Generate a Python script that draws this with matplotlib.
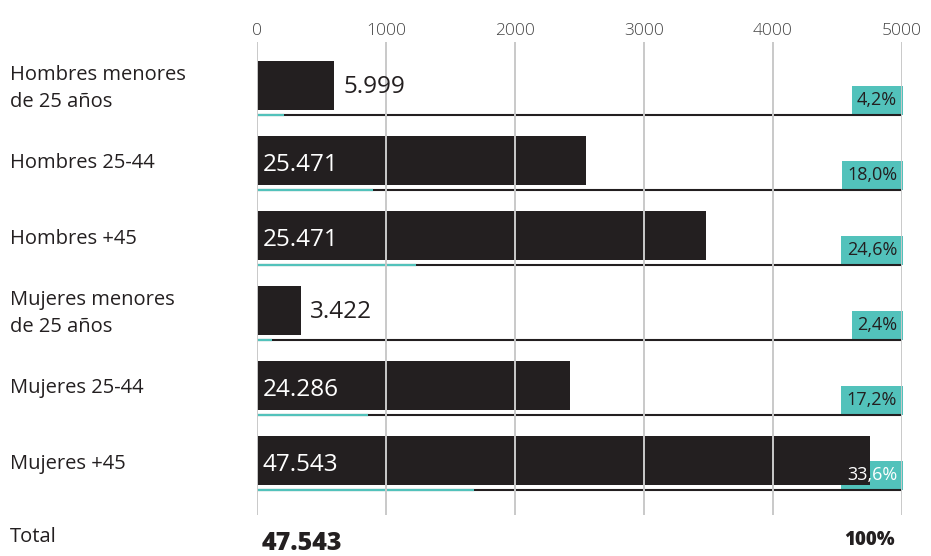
import numpy as np
import matplotlib
matplotlib.use("Agg")
import matplotlib.pyplot as plt

plt.rcParams['font.family'] = ['Open Sans', 'DejaVu Sans']

# Data
categorias = ["Hombres menores\nde 25 años", "Hombres 25-44", "Hombres +45",
              "Mujeres menores\nde 25 años", "Mujeres 25-44", "Mujeres +45"]
valores = [5999, 25471, 34810, 3422, 24286, 47543]        # bar lengths (axis shows value / 10)
etiquetas_valor = ["5.999", "25.471", "25.471", "3.422", "24.286", "47.543"]
porcentajes = [4.2, 18.0, 24.6, 2.4, 17.2, 33.6]
etiquetas_pct = ["4,2%", "18,0%", "24,6%", "2,4%", "17,2%", "33,6%"]
total_valor = "47.543"
total_pct = "100%"
ticks = [0, 1000, 2000, 3000, 4000, 5000]

dark = "#231f20"
teal = "#52c2bb"
grid = "#c9c9c9"

fig = plt.figure(figsize=(9.31, 5.56), dpi=100)
ax = fig.add_axes([257/931, 1 - 515/556, 645/931, 473/556])

y = np.arange(len(categorias))
largo = np.array(valores) / 10
ax.set_xlim(0, 5000)
ax.set_ylim(-0.58 + 473/75, -0.58)

# vertical grid lines drawn over bars
for t in ticks:
    ax.axvline(t, color=grid, lw=1.4, zorder=4)

ax.barh(y, largo, height=0.65, color=dark, zorder=3)

for i in y:
    yl = i + 0.395
    ax.plot([0, 5000], [yl, yl], color=dark, lw=1.5, zorder=2, solid_capstyle='butt')
    ax.plot([0, porcentajes[i] / 100 * 5000], [yl, yl], color=teal, lw=1.6, zorder=2.5,
            solid_capstyle='butt')
    # percentage box (box below the bar, text above)
    kw = dict(ha='right', va='bottom', fontsize=13)
    ax.text(4962, yl - 0.08, etiquetas_pct[i], color=(0, 0, 0, 0), zorder=1.5,
            bbox=dict(boxstyle='square,pad=0.3', fc=teal, ec='none'), **kw)
    pcol = 'white' if largo[i] > 4700 else dark
    ax.text(4962, yl - 0.08, etiquetas_pct[i], color=pcol, zorder=6, **kw)
    # value labels
    if largo[i] > 1500:
        ax.text(45, i + 0.06, etiquetas_valor[i], ha='left', va='center', fontsize=17.5,
                color='white', zorder=6)
    else:
        ax.text(largo[i] + 70, i + 0.02, etiquetas_valor[i], ha='left', va='center',
                fontsize=17.5, color=dark, zorder=6)

# category labels
for i, c in enumerate(categorias):
    ax.text(-247/645*5000, i + 0.04, c, ha='left', va='center', fontsize=14.5, color=dark,
            linespacing=1.45, clip_on=False)

# total row
fig.text(10/931, 1 - 537/556, "Total", ha='left', va='center', fontsize=14.5, color=dark)
fig.text(262/931, 1 - 543/556, total_valor, ha='left', va='center', fontsize=18,
         fontweight='heavy', color=dark)
fig.text(895/931, 1 - 540/556, total_pct, ha='right', va='center', fontsize=13.5,
         fontweight='heavy', color=dark)

ax.xaxis.tick_top()
ax.set_xticks(ticks)
ax.set_xticklabels([str(t) for t in ticks], fontsize=12.5, color="#444444", fontweight='light')
ax.tick_params(axis='x', length=0, pad=2)
ax.set_yticks([])
for s in ax.spines.values():
    s.set_visible(False)

fig.savefig("out.png", dpi=100)
